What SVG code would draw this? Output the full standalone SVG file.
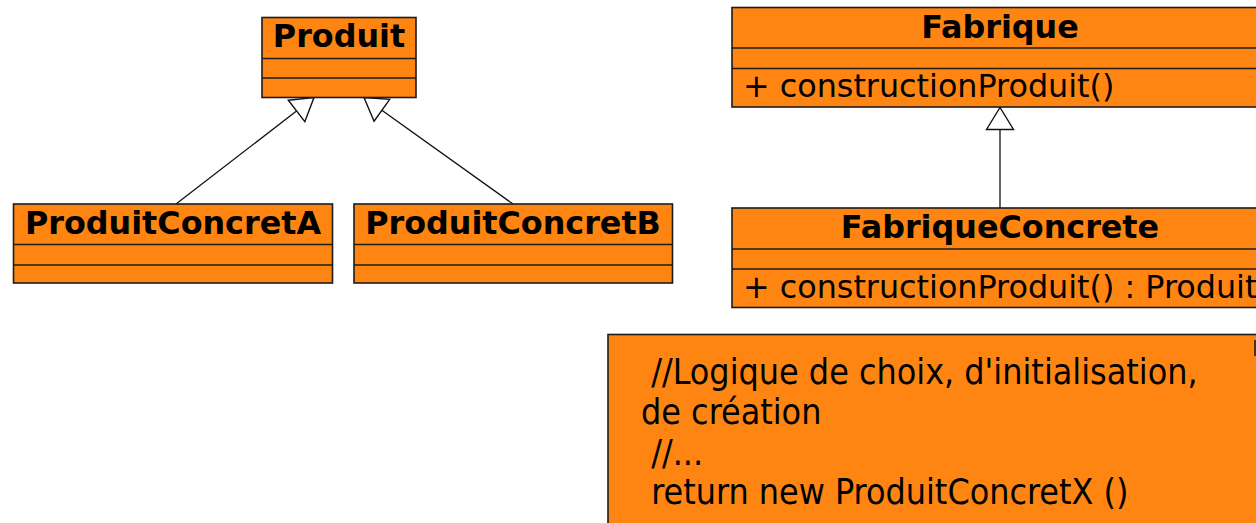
<svg xmlns="http://www.w3.org/2000/svg" width="1256" height="523" viewBox="0 0 1256 523">
  <style>
    .box { fill: #ff8512; stroke: #1c1c1c; stroke-width: 1.6; }
    .sep { stroke: #1c1c1c; stroke-width: 1.6; fill: none; }
    .title { font-family: "DejaVu Sans", "Liberation Sans", sans-serif; font-weight: bold; font-size: 31.8px; fill: #000; text-anchor: middle; }
    .op { font-family: "DejaVu Sans", "Liberation Sans", sans-serif; font-size: 31.8px; fill: #000; }
    .code { font-family: "DejaVu Sans Condensed", "DejaVu Sans", sans-serif; font-stretch: condensed; font-size: 35.5px; fill: #000; }
    .link { stroke: #111; stroke-width: 1.3; fill: none; }
  </style>
  <defs>
    <!-- hollow triangle for UML generalization -->
    <marker id="inherit" markerUnits="userSpaceOnUse" viewBox="-1 -15 25 30" markerWidth="25" markerHeight="30" refX="22" refY="0" orient="auto">
      <path d="M0,-13.5 L22,0 L0,13.5 Z" fill="#fff" stroke="#111" stroke-width="1.4"/>
    </marker>
  </defs>

  <rect width="1256" height="523" fill="#fff"/>

  <g id="connectors">
    <line class="link" x1="176" y1="204" x2="314" y2="97.5" marker-end="url(#inherit)"/>
    <line class="link" x1="513" y1="204" x2="364" y2="97.5" marker-end="url(#inherit)"/>
    <line class="link" x1="1000" y1="208" x2="1000" y2="107.5" marker-end="url(#inherit)"/>
  </g>

  <g id="produit">
    <rect class="box" x="262" y="17.5" width="154" height="80"/>
    <line class="sep" x1="262" y1="58.5" x2="416" y2="58.5"/>
    <line class="sep" x1="262" y1="78" x2="416" y2="78"/>
    <text class="title" x="339" y="47">Produit</text>
  </g>

  <g id="produit-concret-a">
    <rect class="box" x="13.5" y="204" width="319" height="79"/>
    <line class="sep" x1="13.5" y1="244.5" x2="332.5" y2="244.5"/>
    <line class="sep" x1="13.5" y1="265" x2="332.5" y2="265"/>
    <text class="title" x="173" y="234">ProduitConcretA</text>
  </g>

  <g id="produit-concret-b">
    <rect class="box" x="354" y="204" width="318.5" height="79"/>
    <line class="sep" x1="354" y1="244.5" x2="672.5" y2="244.5"/>
    <line class="sep" x1="354" y1="265" x2="672.5" y2="265"/>
    <text class="title" x="513" y="234">ProduitConcretB</text>
  </g>

  <g id="fabrique">
    <rect class="box" x="732" y="7.5" width="540" height="99.5"/>
    <line class="sep" x1="732" y1="48" x2="1272" y2="48"/>
    <line class="sep" x1="732" y1="68.5" x2="1272" y2="68.5"/>
    <text class="title" x="1000" y="37.5">Fabrique</text>
    <text class="op" x="743" y="97">+ constructionProduit()</text>
  </g>

  <g id="fabrique-concrete">
    <rect class="box" x="732" y="208" width="540" height="99.5"/>
    <line class="sep" x1="732" y1="249" x2="1272" y2="249"/>
    <line class="sep" x1="732" y1="269" x2="1272" y2="269"/>
    <text class="title" x="1000" y="238">FabriqueConcrete</text>
    <text class="op" x="743" y="298">+ constructionProduit() : Produit</text>
  </g>

  <g id="note">
    <rect class="box" x="608" y="334.5" width="660" height="200"/>
    <line class="sep" x1="1255" y1="340" x2="1255" y2="356"/>
    <text class="code" x="641" y="384" xml:space="preserve"> //Logique de choix, d'initialisation,</text>
    <text class="code" x="641" y="424">de création</text>
    <text class="code" x="641" y="464.5" xml:space="preserve"> //...</text>
    <text class="code" x="641" y="504" xml:space="preserve"> return new ProduitConcretX ()</text>
  </g>
</svg>
